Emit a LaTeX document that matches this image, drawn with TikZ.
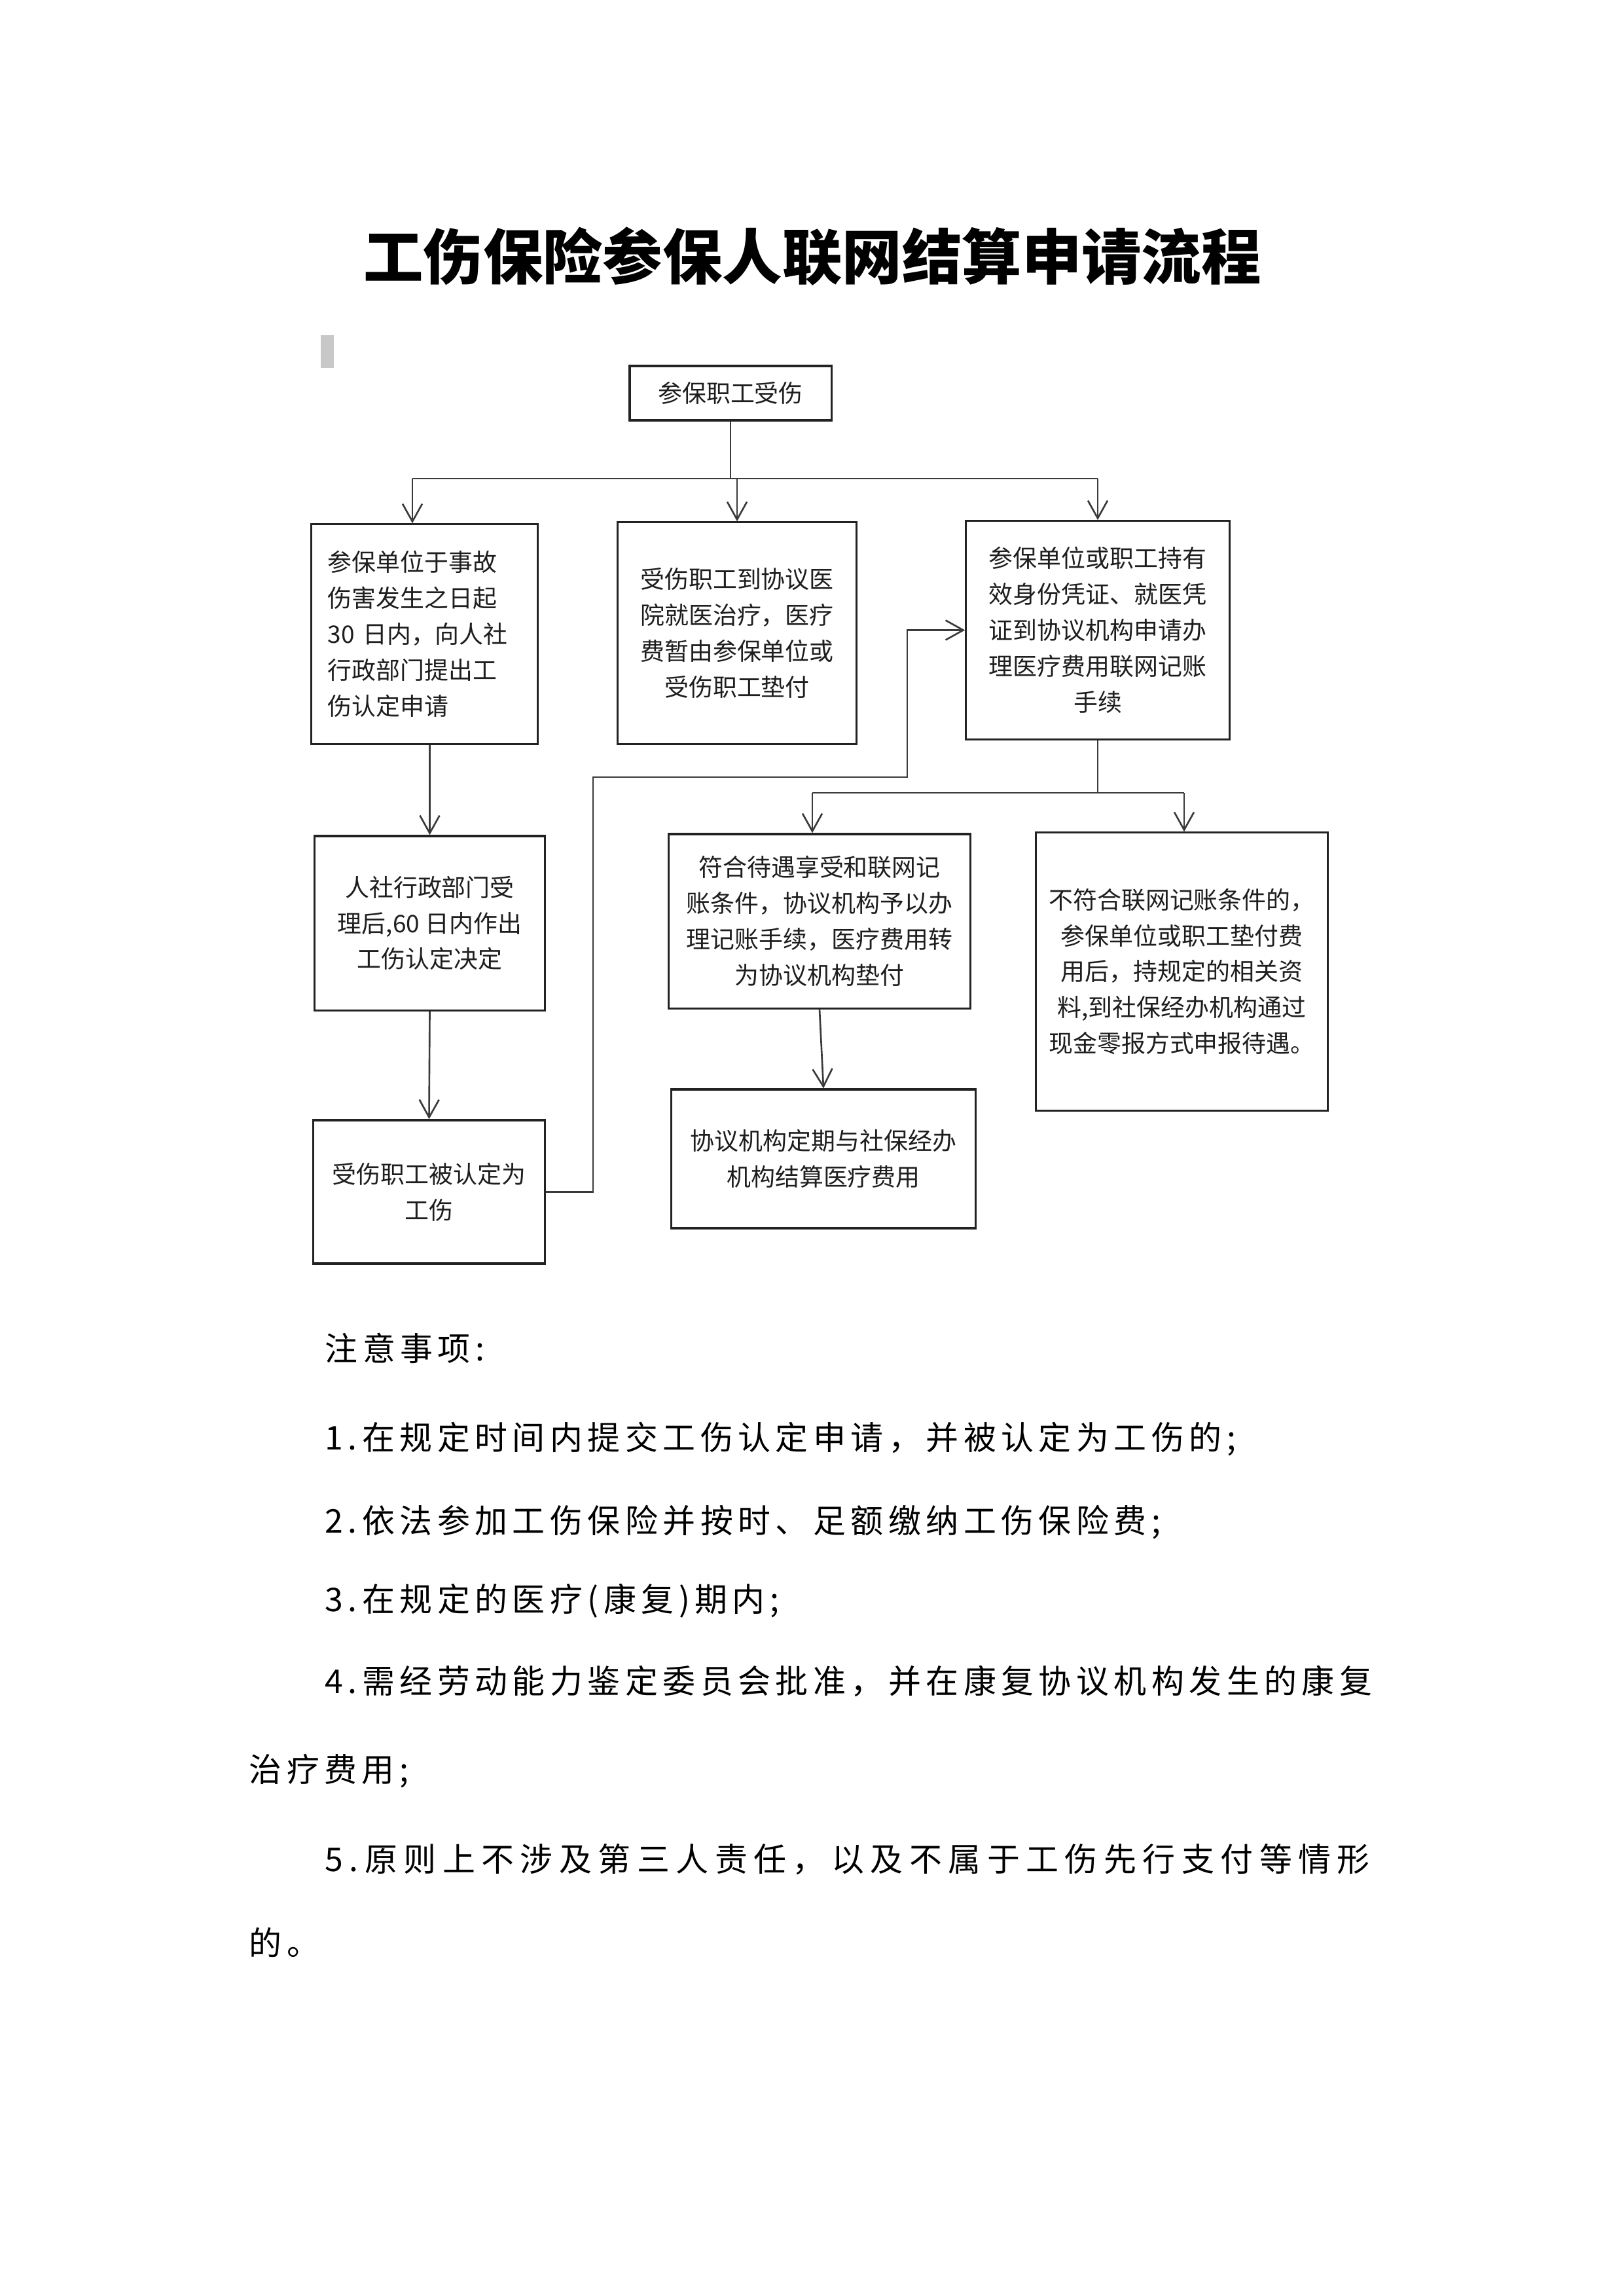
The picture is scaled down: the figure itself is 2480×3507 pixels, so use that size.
\documentclass[tikz,border=0pt]{standalone}
\usepackage{fontspec}
\usetikzlibrary{arrows.meta}
\newfontfamily\cjk{Noto Sans CJK SC}
\newfontfamily\notefont[LetterSpace=15]{Noto Sans CJK SC}
\newfontfamily\notefontw[LetterSpace=19]{Noto Sans CJK SC}
\definecolor{boxline}{HTML}{222222}
\definecolor{conn}{HTML}{3A3A3A}
\definecolor{txt}{HTML}{1E1E1E}
\definecolor{markgray}{HTML}{C8C8C8}
\tikzset{
 flowbox/.style={draw=boxline, line width=0.9pt, inner sep=0pt, align=center, text=txt,
   font=\cjk\fontsize{10.5pt}{15.6pt}\selectfont},
 conline/.style={draw=conn, line width=0.75pt},
 conarrow/.style={conline, -{Straight Barb[length=0.27cm,width=0.3cm]}},
 notetext/.style={anchor=west, inner sep=0pt, text=black,
   font=\notefont\fontsize{14.2pt}{14.2pt}\selectfont},
 notetextw/.style={notetext, font=\notefontw\fontsize{14.2pt}{14.2pt}\selectfont},
}
\begin{document}
\begin{tikzpicture}[x=0.01cm,y=-0.01cm]
\useasboundingbox (0,0) rectangle (2480,3507);
\fill[white] (0,0) rectangle (2480,3507);

% title
\node[inner sep=0pt] (title) at (1241,392)
  {\cjk\bfseries\fontsize{26pt}{26pt}\selectfont 工伤保险参保人联网结算申请流程};

% grey mark
\fill[markgray] (490,512) rectangle (510,562);

% boxes
\node[flowbox, minimum width=3.08cm, minimum height=0.83cm] (N0) at (1116,600.5) {参保职工受伤};
\node[flowbox, text width=2.95cm, align=left, minimum width=3.45cm, minimum height=3.35cm] (A) at (648.5,968.5)
  {参保单位于事故\\伤害发生之日起\\30 日内，向人社\\行政部门提出工\\伤认定申请};
\node[flowbox, minimum width=3.64cm, minimum height=3.38cm] (B) at (1126,967)
  {受伤职工到协议医\\院就医治疗，医疗\\费暂由参保单位或\\受伤职工垫付};
\node[flowbox, minimum width=4.02cm, minimum height=3.33cm] (C) at (1677,962.5)
  {参保单位或职工持有\\效身份凭证、就医凭\\证到协议机构申请办\\理医疗费用联网记账\\手续};
\node[flowbox, minimum width=3.51cm, minimum height=2.66cm] (D) at (656.5,1410)
  {人社行政部门受\\理后,60 日内作出\\工伤认定决定};
\node[flowbox, minimum width=3.53cm, minimum height=2.19cm] (E) at (655.5,1820.5)
  {受伤职工被认定为\\工伤};
\node[flowbox, minimum width=4.60cm, minimum height=2.66cm] (F) at (1252,1407)
  {符合待遇享受和联网记\\账条件，协议机构予以办\\理记账手续，医疗费用转\\为协议机构垫付};
\node[flowbox, minimum width=4.45cm, minimum height=4.24cm] (G) at (1805.5,1484)
  {不符合联网记账条件的，\\参保单位或职工垫付费\\用后，持规定的相关资\\料,到社保经办机构通过\\现金零报方式申报待遇。};
\node[flowbox, minimum width=4.64cm, minimum height=2.12cm] (H) at (1258,1770)
  {协议机构定期与社保经办\\机构结算医疗费用};

% connectors from top box
\coordinate (bl) at (630,731);
\coordinate (br) at (1677,731);
\draw[conline] (N0.south) -- (N0.south |- bl);
\draw[conline] (bl) -- (br);
\draw[conarrow] (bl) -- (bl |- A.north);
\draw[conarrow] (B.north |- bl) -- (B.north);
\draw[conarrow] (br) -- (C.north);

% left column
\draw[conarrow] (D.north |- A.south) -- (D.north);
\draw[conarrow] (D.south) -- (E.north);

% E to C
\coordinate (k1) at (906,1187);
\coordinate (k2) at (1386,1187);
\draw[conarrow] (E.east) -| (k1) -- (k2) |- (C.west);

% C branches
\coordinate (cl) at (1241,1211);
\coordinate (cr) at (1809,1211);
\draw[conline] (C.south) -- (C.south |- cl);
\draw[conline] (cl) -- (cr);
\draw[conarrow] (cl) -- (cl |- F.north);
\draw[conarrow] (cr) -- (cr |- G.north);
\draw[conarrow] (F.south) -- (H.north);

% notes
\node[notetext] (n0) at (496,2059) {注意事项:};
\node[notetext] (n1) at (496,2198) {1.在规定时间内提交工伤认定申请，并被认定为工伤的;};
\node[notetext] (n2) at (496,2325) {2.依法参加工伤保险并按时、足额缴纳工伤保险费;};
\node[notetext] (n3) at (496,2445) {3.在规定的医疗(康复)期内;};
\node[notetext] (n4) at (496,2568) {4.需经劳动能力鉴定委员会批准，并在康复协议机构发生的康复};
\node[notetext] (n4b) at (380,2705) {治疗费用;};
\node[notetextw] (n5) at (496,2840) {5.原则上不涉及第三人责任，以及不属于工伤先行支付等情形};
\node[notetext] (n5b) at (380,2967) {的。};
\end{tikzpicture}
\end{document}
